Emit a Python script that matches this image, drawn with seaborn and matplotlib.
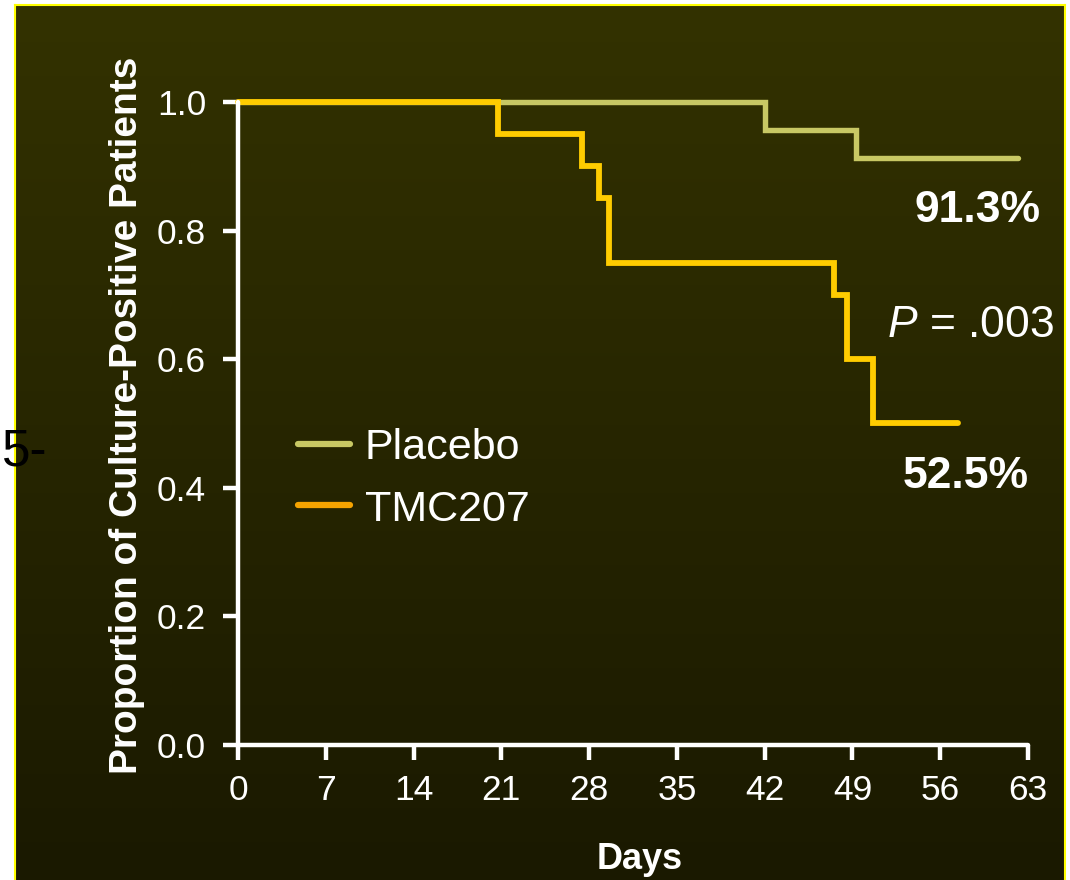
import numpy as np
import pandas as pd
import matplotlib
matplotlib.use("Agg")
import matplotlib.pyplot as plt
from matplotlib.lines import Line2D
import seaborn as sns

# ---- data ----
placebo_days = [0, 42.0, 49.3, 62.2]
placebo_prop = [1.0, 0.956, 0.913, 0.913]
tmc_days = [0, 20.7, 27.4, 28.8, 29.6, 47.5, 48.6, 50.6, 57.4]
tmc_prop = [1.0, 0.95, 0.90, 0.85, 0.75, 0.70, 0.60, 0.50, 0.50]
groups = ["Placebo", "TMC207"]
x_ticks = [0, 7, 14, 21, 28, 35, 42, 49, 56, 63]
y_ticks = [0.0, 0.2, 0.4, 0.6, 0.8, 1.0]
end_labels = ["91.3%", "52.5%"]
p_text = ".003"

line_colors = {"Placebo": "#c8c864", "TMC207": "#ffcc00"}
legend_colors = {"Placebo": "#c8c864", "TMC207": "#f5a300"}

df = pd.concat([
    pd.DataFrame({"day": placebo_days, "prop": placebo_prop, "group": "Placebo"}),
    pd.DataFrame({"day": tmc_days, "prop": tmc_prop, "group": "TMC207"}),
], ignore_index=True)

sns.set_theme(style="white")
plt.rcParams["font.family"] = ["Liberation Sans", "DejaVu Sans"]
plt.rcParams["mathtext.fontset"] = "custom"
plt.rcParams["mathtext.it"] = "Liberation Sans:italic"
plt.rcParams["mathtext.rm"] = "Liberation Sans"

W, H = 1070, 880
fig = plt.figure(figsize=(W / 100, H / 100), dpi=100)
fig.patch.set_facecolor("white")

# background panel with gradient
bg = fig.add_axes([15 / W, 0, 1050 / W, 875 / H])
grad = np.linspace(0, 1, 256).reshape(-1, 1)
top = np.array([0x33, 0x32, 0x00]) / 255
bot = np.array([0x1a, 0x19, 0x00]) / 255
img = top[None, None, :] * (1 - grad[..., None]) + bot[None, None, :] * grad[..., None]
bg.imshow(img, aspect="auto", extent=[0, 1, 0, 1])
bg.set_xticks([]); bg.set_yticks([])
for s in ["left", "top", "right"]:
    bg.spines[s].set_color("#ffff00")
    bg.spines[s].set_linewidth(1.5)
bg.spines["bottom"].set_visible(False)

# main axes
x0, x1 = 238, 1028
y0, y1 = 745, 102
ax = fig.add_axes([x0 / W, (H - y0) / H, (x1 - x0) / W, (y0 - y1) / H])
ax.set_facecolor("none")

for g in groups:
    sns.lineplot(data=df[df.group == g], x="day", y="prop", ax=ax,
                 color=line_colors[g], drawstyle="steps-post",
                 estimator=None, sort=False, linewidth=4.2 if g == "TMC207" else 3.9,
                 clip_on=False, solid_capstyle="round", solid_joinstyle="miter",
                 legend=False)

ax.set_xlim(0, 63)
ax.set_ylim(0, 1.0)
ax.set_xticks(x_ticks)
ax.set_yticks(y_ticks)
ax.set_xticklabels([str(t) for t in x_ticks], fontsize=25.5)
ax.set_yticklabels([f"{t:.1f}" for t in y_ticks], fontsize=25.5)

for s in ["top", "right"]:
    ax.spines[s].set_visible(False)
for s in ["left", "bottom"]:
    ax.spines[s].set_color("white")
    ax.spines[s].set_linewidth(3.2)
    ax.spines[s].set_capstyle("round")
ax.tick_params(axis="both", colors="white", direction="out", length=11, width=3.2,
               bottom=True, left=True)
ax.tick_params(axis="y", pad=12)
ax.tick_params(axis="x", pad=10)

ax.set_ylabel("Proportion of Culture-Positive Patients", color="white",
              fontsize=28, fontweight="bold")
ax.yaxis.set_label_coords((127 - x0) / (x1 - x0), (y0 - 415) / (y0 - y1))
ax.yaxis.label.set_va("center")
ax.set_xlabel("Days", color="white", fontsize=26, fontweight="bold")
ax.xaxis.set_label_coords((640 - x0) / (x1 - x0), (y0 - 859) / (y0 - y1))
ax.xaxis.label.set_va("center")

ax.text(59.0, 0.832, end_labels[0], color="white", fontsize=32, fontweight="bold",
        ha="center", va="center")
ax.text(58.0, 0.417, end_labels[1], color="white", fontsize=32, fontweight="bold",
        ha="center", va="center")
ax.text(58.4, 0.653, r"$\mathit{P}$ = " + p_text, color="white", fontsize=32,
        ha="center", va="center")

handles = [Line2D([0], [0], color=legend_colors[g], linewidth=4.5, solid_capstyle="round")
           for g in groups]
leg = ax.legend(handles, groups, loc="upper left", frameon=False,
                bbox_to_anchor=((298 - x0) / (x1 - x0), (y0 - 428) / (y0 - y1)),
                borderpad=0, borderaxespad=0, handlelength=1.2, handletextpad=0.35,
                labelspacing=0.5, fontsize=31)
for t in leg.get_texts():
    t.set_color("white")

fig.text(2 / W, (H - 452) / H, "5-", color="black", fontsize=37, ha="left", va="center")

fig.savefig("out.png", dpi=100, facecolor=fig.get_facecolor())
